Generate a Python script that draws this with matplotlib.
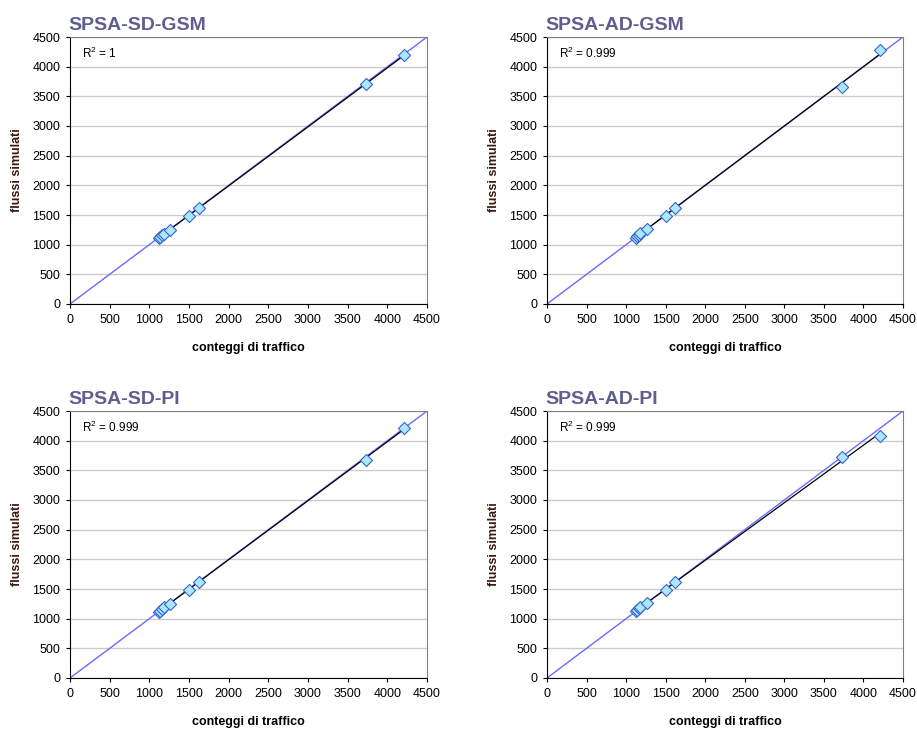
import matplotlib
matplotlib.use('Agg')
import matplotlib.pyplot as plt
import numpy as np

plt.rcParams['font.family'] = ['Liberation Sans', 'DejaVu Sans']
plt.rcParams['mathtext.fontset'] = 'custom'
plt.rcParams['mathtext.rm'] = 'Liberation Sans'

# Traffic counts (x) and simulated flows (y) for each calibration
conteggi = [1120, 1135, 1160, 1180, 1260, 1500, 1620, 3730, 4210]
flussi_sd_gsm = [1115, 1130, 1165, 1185, 1255, 1490, 1610, 3700, 4200]
flussi_ad_gsm = [1120, 1140, 1170, 1190, 1265, 1485, 1620, 3650, 4280]
flussi_sd_pi = [1120, 1135, 1160, 1200, 1250, 1490, 1620, 3680, 4220]
flussi_ad_pi = [1125, 1140, 1175, 1190, 1260, 1490, 1620, 3720, 4080]

titles = ['SPSA-SD-GSM', 'SPSA-AD-GSM', 'SPSA-SD-PI', 'SPSA-AD-PI']
r2_labels = ['R$^2$ = 1', 'R$^2$ = 0.999', 'R$^2$ = 0.999', 'R$^2$ = 0.999']
series = [flussi_sd_gsm, flussi_ad_gsm, flussi_sd_pi, flussi_ad_pi]

W, H = 917, 729
# axes boxes in pixels: left, top, right, bottom
boxes = [(70, 37, 427, 304), (547, 37, 903, 304),
         (70, 411, 427, 678), (547, 411, 903, 678)]

fig = plt.figure(figsize=(W / 100, H / 100), dpi=100)
ticks = np.arange(0, 4501, 500)

for box, title, r2, y in zip(boxes, titles, r2_labels, series):
    l, t, r, b = box
    ax = fig.add_axes([l / W, 1 - b / H, (r - l) / W, (b - t) / H])
    ax.set_xlim(0, 4500)
    ax.set_ylim(0, 4500)
    ax.set_xticks(ticks)
    ax.set_yticks(ticks)
    ax.tick_params(labelsize=9, length=3, width=0.8, colors='black',
                   pad=4)
    ax.grid(True, axis='y', color='#cccccc', linewidth=1)
    ax.set_axisbelow(True)
    for side in ['top', 'right']:
        ax.spines[side].set_color('#808080')
    for side in ['left', 'bottom']:
        ax.spines[side].set_color('black')

    # identity line
    ax.plot([0, 4500], [0, 4500], color='#6a6aff', linewidth=1, zorder=2)
    # linear trend line over data range
    coef = np.polyfit(conteggi, y, 1)
    xs = np.array([min(conteggi), max(conteggi)])
    ax.plot(xs, np.polyval(coef, xs), color='black', linewidth=0.9,
            zorder=3)
    ax.scatter(conteggi, y, marker='D', s=38, facecolor='#aee6ff',
               edgecolor='#3366cc', linewidth=0.8, zorder=4)

    ax.text(0.035, 0.94, r2, transform=ax.transAxes, fontsize=8.5,
            va='center', ha='left')
    ax.set_title(title, loc='left', fontsize=14, fontweight='bold',
                 color='#5f5f8f', pad=5, x=-0.005)
    ax.set_xlabel('conteggi di traffico', fontsize=9, fontweight='bold',
                  labelpad=12)
    ax.set_ylabel('flussi simulati', fontsize=9, fontweight='bold',
                  color='#3a1a10', labelpad=7)

fig.savefig('out.png', dpi=100)
